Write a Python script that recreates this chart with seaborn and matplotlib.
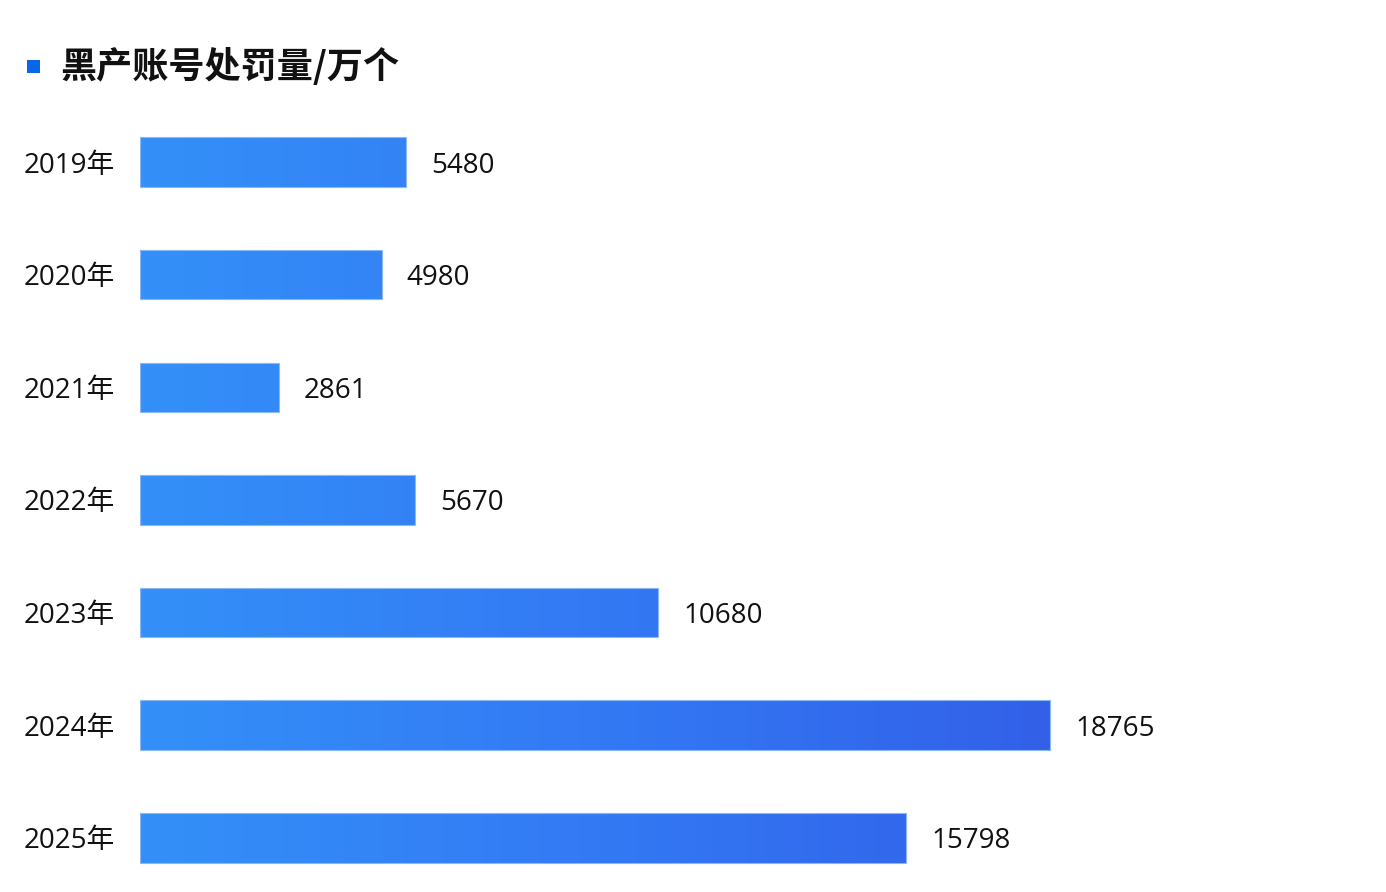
import numpy as np
import pandas as pd
import matplotlib
matplotlib.use("Agg")
import matplotlib.pyplot as plt
from matplotlib.colors import LinearSegmentedColormap
from matplotlib.patches import Rectangle
import seaborn as sns

# chart data
years = ["2019年", "2020年", "2021年", "2022年", "2023年", "2024年", "2025年"]
counts = [5480, 4980, 2861, 5670, 10680, 18765, 15798]
title = "黑产账号处罚量/万个"

sns.set_theme(style="white")
plt.rcParams["font.family"] = ["Open Sans", "Noto Sans CJK SC", "DejaVu Sans"]

df = pd.DataFrame({"year": years, "count": counts})

fig = plt.figure(figsize=(13.86, 8.92), dpi=100)
ax = fig.add_axes([140 / 1386, 0.0, 1246 / 1386, 0.8815])

sns.barplot(data=df, x="count", y="year", orient="h", color="#3385f2",
            width=0.44, ax=ax)

x_max = 25690

# gradient fill clipped to each bar
grad_cmap = LinearSegmentedColormap.from_list("bar_grad", ["#3490f8", "#3379f4", "#3260e8"])
grad = np.linspace(0, 1, 256).reshape(1, -1)
for patch in ax.patches:
    x0, y0 = patch.get_x(), patch.get_y()
    h = patch.get_height()
    patch.set_facecolor("none")
    patch.set_edgecolor("#8ab8f7")
    patch.set_linewidth(0.8)
    img = ax.imshow(grad, cmap=grad_cmap, aspect="auto",
                    extent=(0, 19000, y0 + h, y0), zorder=patch.get_zorder() - 0.1,
                    interpolation="bilinear")
    img.set_clip_path(patch)
ax.set_xlim(0, x_max)
ax.set_ylim(6.48, -0.5)

# value labels
for i, v in enumerate(counts):
    ax.annotate(str(v), xy=(v, i), xytext=(18, 0), textcoords="offset points",
                ha="left", va="center_baseline", fontsize=20, color="#111111")

ax.set_xlabel("")
ax.set_ylabel("")
ax.set_xticks([])
ax.tick_params(axis="y", length=0, pad=18, labelsize=20, labelcolor="#111111")
for s in ax.spines.values():
    s.set_visible(False)

# title with blue square marker
fig.patches.append(Rectangle((27 / 1386, 1 - 73 / 892), 13 / 1386, 13 / 892,
                             transform=fig.transFigure, facecolor="#0a66e8",
                             edgecolor="none"))
fig.text(60 / 1386, 1 - 67 / 892, title, fontsize=26, fontweight="bold",
         ha="left", va="center", color="#111111",
         family=["Noto Sans CJK SC", "DejaVu Sans"])

fig.savefig("out.png", dpi=100, facecolor="white")
